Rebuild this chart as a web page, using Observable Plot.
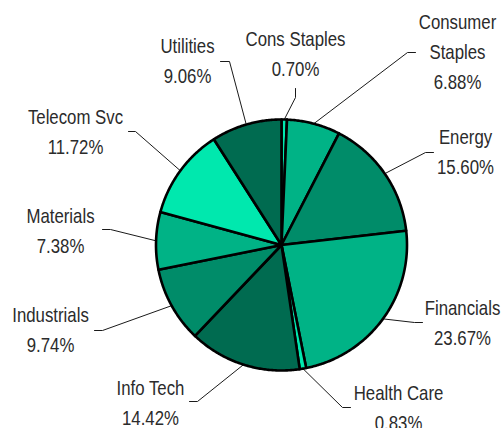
<!DOCTYPE html>
<html><head><meta charset="utf-8">
<script src="https://cdn.jsdelivr.net/npm/d3@7"></script>
<script src="https://cdn.jsdelivr.net/npm/@observablehq/plot@0.6"></script>
<style>html,body{margin:0;padding:0;background:#fff;} #chart{width:503px;height:428px;}</style>
</head><body><div id="chart"></div>
<script>
// ---- data ----
const categories = ["Cons Staples","Consumer Staples","Energy","Financials","Health Care","Info Tech","Industrials","Materials","Telecom Svc","Utilities"];
const weights = [0.70, 6.88, 15.60, 23.67, 0.83, 14.42, 9.74, 7.38, 11.72, 9.06];

// ---- style ----
const sliceColors = ["#00e8ae","#00b386","#008c69","#00b386","#00e8ae","#006b50","#008c69","#00b386","#00e8ae","#006b50"];
const fontFamily = "'Liberation Sans',Arial,sans-serif";
const narrow = 0.82; // horizontal condensing of label text

// ---- layout ----
const W = 503, H = 428, cx = 281, cy = 244.5, R = 125.5;
// label block: x center, baseline of last line
const labelX = [295, 457, 465, 462, 398, 150, 50, 60, 75, 187];
const labelY = [75, 88, 173, 344, 429, 424, 351, 252, 153, 82];
const wrapName = [false, true, false, false, false, false, false, false, false, false];
// leader line elbow and tail end
const elbowX = [295, 407, 425, 414, 342, 197, 102, 110, 135, 229];
const elbowY = [97, 52, 152, 322, 407, 401, 330, 229, 131, 61];
const tailX = [295, 415, 433, 422, 350, 189, 94, 102, 128, 220];
const tailY = [88, 52, 152, 322, 407, 401, 330, 229, 131, 61];

const arcs = d3.pie().sort(null).value(d => d)(weights);
const pt = (a, r) => [cx + r * Math.sin(a), cy - r * Math.cos(a)];

const slicePts = [];
arcs.forEach((a, i) => {
  const name = categories[i];
  slicePts.push({name, color: sliceColors[i], x: cx, y: cy});
  const n = Math.max(2, Math.ceil((a.endAngle - a.startAngle) / 0.01));
  for (let k = 0; k <= n; k++) {
    const t = a.startAngle + (a.endAngle - a.startAngle) * k / n;
    const [x, y] = pt(t, R);
    slicePts.push({name, color: sliceColors[i], x, y});
  }
});

const leaderPts = [];
arcs.forEach((a, i) => {
  const name = categories[i];
  const mid = (a.startAngle + a.endAngle) / 2;
  const [x0, y0] = pt(mid, R);
  leaderPts.push({name, x: x0, y: y0});
  leaderPts.push({name, x: elbowX[i], y: elbowY[i]});
  leaderPts.push({name, x: tailX[i], y: tailY[i]});
});

const labels = categories.map((c, i) => ({
  text: (wrapName[i] ? c.replace(" ", "\n") : c) + "\n" + weights[i].toFixed(2) + "%",
  x: labelX[i], y: labelY[i]
}));

const chart = Plot.plot({
  width: W, height: H, margin: 0,
  x: {domain: [0, W], range: [0, W], axis: null},
  y: {domain: [0, H], range: [0, H], axis: null},
  color: {type: "identity"},
  style: {background: "#fff"},
  marks: [
    Plot.line(leaderPts, {x: "x", y: "y", z: "name", stroke: "#1a1a1a", strokeWidth: 1}),
    Plot.line(slicePts, {x: "x", y: "y", z: "name", fill: "color", stroke: "#000", strokeWidth: 2.6, strokeLinejoin: "round", curve: "linear-closed"}),
    Plot.text(labels, {x: "x", y: "y", text: "text", lineAnchor: "bottom", lineHeight: 1.46, fontSize: 20.5, fontFamily, fill: "#2b2b2b", textAnchor: "middle"})
  ]
});
// condense label glyphs horizontally around each label's anchor
chart.querySelectorAll("text").forEach(t => {
  const tr = t.getAttribute("transform") || "";
  t.setAttribute("transform", tr + ` scale(${narrow},1)`);
});
document.getElementById("chart").appendChild(chart);
</script>
</body></html>
